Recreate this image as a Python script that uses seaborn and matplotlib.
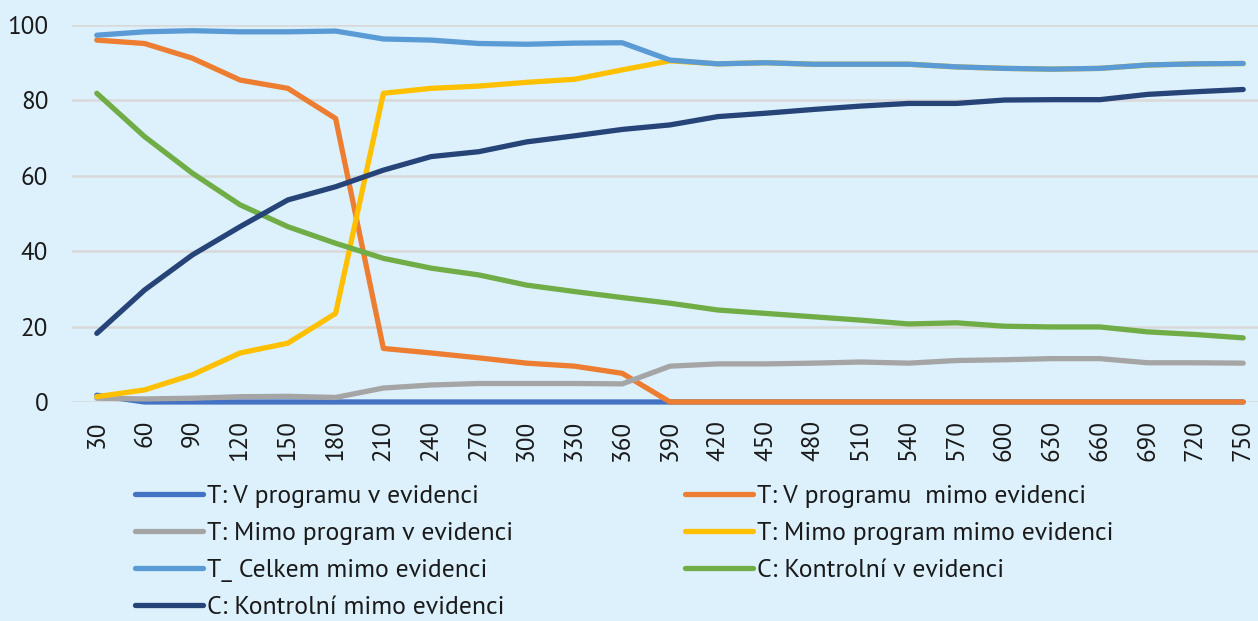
import matplotlib
matplotlib.use("Agg")
import matplotlib.pyplot as plt
import seaborn as sb
import pandas as pd

days = [30, 60, 90, 120, 150, 180, 210, 240, 270, 300, 330, 360, 390,
        420, 450, 480, 510, 540, 570, 600, 630, 660, 690, 720, 750]

t_program_in = [1.8, 0, 0, 0, 0, 0, 0, 0, 0, 0, 0, 0, 0,
                0, 0, 0, 0, 0, 0, 0, 0, 0, 0, 0, 0]
t_program_out = [96.0, 95.1, 91.2, 85.4, 83.2, 75.2, 14.2, 13.0, 11.7, 10.3, 9.5, 7.6, 0,
                 0, 0, 0, 0, 0, 0, 0, 0, 0, 0, 0, 0]
t_outside_in = [1.0, 0.8, 1.0, 1.4, 1.5, 1.2, 3.7, 4.5, 4.9, 4.9, 4.9, 4.8, 9.5,
                10.1, 10.1, 10.3, 10.6, 10.3, 11.0, 11.2, 11.5, 11.5, 10.4, 10.4, 10.3]
t_outside_out = [1.4, 3.2, 7.2, 13.0, 15.6, 23.5, 81.9, 83.2, 83.8, 84.8, 85.6, 88.1, 90.5,
                 89.7, 90.0, 89.6, 89.6, 89.6, 88.9, 88.5, 88.3, 88.5, 89.4, 89.7, 89.8]
t_total_out = [97.3, 98.2, 98.5, 98.2, 98.2, 98.4, 96.3, 96.0, 95.1, 94.9, 95.2, 95.3, 90.7,
               89.7, 90.0, 89.6, 89.6, 89.6, 88.9, 88.5, 88.3, 88.5, 89.4, 89.7, 89.8]
c_control_in = [81.9, 70.4, 60.7, 52.3, 46.5, 42.1, 38.1, 35.5, 33.7, 31.0, 29.3, 27.7, 26.2,
                24.4, 23.5, 22.6, 21.7, 20.7, 21.0, 20.1, 19.9, 19.9, 18.6, 17.9, 17.0]
c_control_out = [18.2, 29.7, 39.0, 46.5, 53.6, 57.1, 61.5, 65.1, 66.4, 69.0, 70.6, 72.3, 73.5,
                 75.7, 76.6, 77.6, 78.5, 79.2, 79.2, 80.1, 80.2, 80.2, 81.6, 82.3, 82.9]

series_names = ["T: V programu v evidenci", "T: V programu  mimo evidenci",
                "T: Mimo program v evidenci", "T: Mimo program mimo evidenci",
                "T_ Celkem mimo evidenci", "C: Kontrolní v evidenci",
                "C: Kontrolní mimo evidenci"]
series_values = [t_program_in, t_program_out, t_outside_in, t_outside_out,
                 t_total_out, c_control_in, c_control_out]
colors = ["#4472C4", "#ED7D31", "#A5A5A5", "#FFC000", "#5B9BD5", "#70AD47", "#264478"]

rows = []
for name, values in zip(series_names, series_values):
    for d, v in zip(days, values):
        rows.append({"day": d, "value": v, "series": name})
data = pd.DataFrame(rows)

plt.rcParams["font.family"] = ["PT Sans", "DejaVu Sans"]
plt.rcParams["text.color"] = "#1a1a1a"

bg = "#DDF1FD"
fig = plt.figure(figsize=(12.58, 6.21), dpi=100, facecolor=bg)
ax = fig.add_axes([0.0572, 0.3527, 0.9428, 0.607])
ax.set_facecolor(bg)

sb.lineplot(data=data, x="day", y="value", hue="series", hue_order=series_names,
            palette=colors, linewidth=3.8, legend=False, ax=ax)
for line in ax.lines:
    line.set_solid_capstyle("round")
    line.set_solid_joinstyle("round")
    line.set_clip_on(False)

ax.set_xlim(30 - 0.52 * 30, 750 + 0.31 * 30)
ax.set_ylim(0, 100)
ax.set_xticks(days)
ax.set_xticklabels([str(d) for d in days], rotation=90, fontsize=18)
ax.set_yticks(range(0, 101, 20))
ax.set_yticklabels([str(v) for v in range(0, 101, 20)], fontsize=18)
ax.tick_params(axis="x", length=0, pad=13, labelcolor="#1a1a1a")
ax.tick_params(axis="y", length=0, pad=17, labelcolor="#1a1a1a")
ax.grid(axis="y", color="#D9D9D9", linewidth=1.8)
ax.set_axisbelow(True)
for s in ax.spines.values():
    s.set_visible(False)
ax.set_xlabel("")
ax.set_ylabel("")

handles = ax.lines
order = [0, 2, 4, 6, 1, 3, 5]
fig.legend([handles[i] for i in order], [series_names[i] for i in order],
           ncols=2, loc="upper left", bbox_to_anchor=(135 / 1258, 1 - 485 / 621),
           frameon=False, fontsize=18.5,
           handlelength=2.65, handletextpad=0.15, columnspacing=6.7,
           labelspacing=0.55, borderaxespad=0, borderpad=0)

fig.savefig("out.png", dpi=100, facecolor=bg)
